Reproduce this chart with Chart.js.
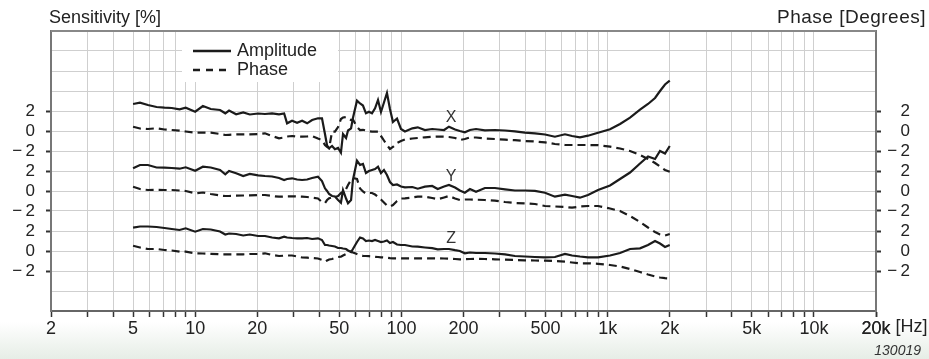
<!DOCTYPE html>
<html>
<head>
<meta charset="utf-8">
<script src="https://cdn.jsdelivr.net/npm/chart.js@4.4.1/dist/chart.umd.min.js"></script>
<style>
  html, body { margin: 0; padding: 0; }
  body { width: 929px; height: 359px; overflow: hidden;
         background: linear-gradient(to bottom, #fff 0, #fff 322px, #e6ede6 359px); }
  canvas { display: block; }
</style>
</head>
<body>
<canvas id="chart" width="929" height="359"></canvas>
<script>
// frequency points [Hz]
const freqs = [5, 5.4, 5.9, 6.5, 7.1, 7.7, 8.4, 9.0, 10, 10.9,
  11.9, 13.2, 14.0, 14.6, 15.8, 17.1, 18.4, 20.2, 21.8, 23.6,
  25.5, 27.0, 27.9, 29.5, 31.2, 33.0, 34.9, 36.9, 39.4, 41.2,
  42.6, 43.6, 44.6, 46.1, 47.6, 49.3, 50.9, 52.1, 53.9, 55.1,
  57.0, 58.2, 60.9, 63.0, 65.1, 67.3, 69.6, 72.0, 74.5, 77.0,
  79.6, 82.3, 85.1, 88.0, 91.0, 95.2, 99.5, 104, 113, 120,
  130, 141, 150, 161, 170, 182, 192, 203, 215, 230,
  254, 284, 318, 355, 397, 444, 497, 555, 621, 672,
  734, 803, 898, 1027, 1148, 1284, 1435, 1569, 1697, 1794,
  1897, 2000];

// sensitivity deviation [%]
const xAmp = [2.7, 2.83, 2.6, 2.4, 2.33, 2.3, 2.17, 2.33, 1.93, 2.5,
  2.2, 2.1, 1.77, 2.05, 1.67, 1.85, 1.65, 1.75, 1.7, 1.77,
  1.67, 1.75, 0.77, 1.03, 0.83, 1.03, 0.77, 1.1, 1.27, 1.27,
  -0.3, -1.45, -1.73, -1.5, -1.83, -1.7, -2.17, -0.3, -0.7, 0.05,
  0.27, 1.3, 3.03, 2.75, 2.55, 1.77, 1.93, 1.77, 2.27, 3.1,
  1.9, 2.85, 3.8, 2.2, 0.9, 1.25, 0.2, -0.05, 0.27, 0.37,
  0.1, 0.2, 0.15, 0.1, 0.43, 0.15, 0.0, -0.13, 0.1, 0.2,
  0.07, 0.1, 0.05, -0.03, -0.17, -0.23, -0.35, -0.57, -0.33, -0.5,
  -0.63, -0.47, -0.17, 0.17, 0.7, 1.33, 2.13, 2.7, 3.3, 4.0,
  4.65, 5.03];
const yAmp = [2.27, 2.6, 2.6, 2.35, 2.33, 2.3, 2.23, 2.37, 2.03, 2.43,
  2.35, 2.1, 1.67, 2.0, 1.77, 1.5, 1.7, 1.57, 1.5, 1.45,
  1.3, 1.1, 1.2, 1.27, 1.15, 1.1, 1.15, 1.3, 1.43, 1.0,
  0.27, 0.0, -0.3, -0.5, -0.55, -0.9, -1.17, 0.1, -0.75, -1.23,
  -0.9, 1.1, 3.03, 2.6, 2.7, 1.8, 2.0, 2.1, 2.2, 2.43,
  1.8, 2.1, 1.6, 0.9, 0.6, 0.65, 0.45, 0.37, 0.4, 0.23,
  0.43, 0.5, 0.2, 0.45, 0.6, 0.35, 0.05, -0.17, 0.2, -0.07,
  0.3, 0.3, 0.17, 0.05, 0.05, 0.02, -0.17, -0.57, -0.37, -0.5,
  -0.67, -0.4, 0.1, 0.55, 1.2, 1.85, 2.75, 3.45, 3.2, 4.0,
  3.75, 4.5];
const zAmp = [2.33, 2.45, 2.45, 2.4, 2.3, 2.2, 2.1, 2.27, 1.93, 2.2,
  2.15, 1.95, 1.65, 1.75, 1.7, 1.55, 1.65, 1.5, 1.5, 1.35,
  1.27, 1.43, 1.35, 1.3, 1.27, 1.27, 1.3, 1.2, 1.27, 1.1,
  0.6, 0.6, 0.55, 0.5, 0.45, 0.3, 0.3, 0.25, 0.2, 0.05,
  -0.1, 0.2, 0.9, 1.35, 1.25, 1.0, 1.05, 1.0, 1.1, 1.0,
  0.9, 0.95, 1.05, 0.8, 0.9, 0.65, 0.6, 0.6, 0.45, 0.43,
  0.35, 0.28, 0.17, 0.2, 0.2, 0.08, 0.0, -0.23, -0.15, -0.2,
  -0.2, -0.25, -0.33, -0.5, -0.55, -0.6, -0.63, -0.6, -0.3, -0.45,
  -0.55, -0.63, -0.63, -0.45, -0.2, 0.2, 0.27, 0.6, 1.0, 0.75,
  0.4, 0.6];

// phase [degrees]
const xPhase = [0.43, 0.25, 0.2, 0.27, 0.15, 0.1, 0.03, -0.05, -0.17, -0.15,
  -0.17, -0.3, -0.4, -0.38, -0.33, -0.33, -0.33, -0.3, -0.23, -0.5,
  -0.73, -0.65, -0.55, -0.5, -0.55, -0.57, -0.55, -0.5, -0.75, -0.9,
  -1.4, -1.6, -1.73, -0.07, -0.07, 0.4, 1.2, 1.35, 1.4, 1.25,
  1.1, 1.15, 0.4, 0.1, 0.12, 0.05, -0.02, -0.07, -0.07, -0.07,
  -0.5, -0.95, -1.4, -1.8, -1.6, -1.2, -1.0, -0.85, -0.75, -0.7,
  -0.63, -0.57, -0.55, -0.57, -0.6, -0.7, -0.9, -0.8, -0.65, -0.65,
  -0.75, -0.8, -0.87, -0.92, -1.0, -1.05, -1.13, -1.3, -1.4, -1.4,
  -1.4, -1.4, -1.42, -1.57, -1.75, -2.0, -2.4, -2.8, -3.2, -3.55,
  -3.9, -4.07];
const yPhase = [0.43, 0.2, 0.1, 0.12, 0.1, 0.1, 0.05, 0.0, -0.23, -0.15,
  -0.3, -0.45, -0.5, -0.5, -0.47, -0.45, -0.43, -0.4, -0.4, -0.5,
  -0.57, -0.55, -0.53, -0.53, -0.55, -0.57, -0.6, -0.67, -0.75, -1.1,
  -1.2, -0.9, -0.73, -0.65, -0.6, -0.5, -0.2, -0.05, 0.2, 0.6,
  1.1, 1.3, 1.2, 0.25, -0.05, -0.25, -0.2, -0.2, -0.35, -0.57,
  -0.85, -1.15, -1.45, -1.55, -1.4, -1.0, -0.75, -0.73, -0.65, -0.57,
  -0.57, -0.7, -0.83, -0.65, -0.5, -0.75, -0.9, -0.85, -0.85, -0.87,
  -0.9, -0.97, -1.1, -1.2, -1.23, -1.3, -1.5, -1.55, -1.6, -1.67,
  -1.55, -1.5, -1.5, -1.75, -2.0, -2.5, -3.1, -3.65, -4.1, -4.35,
  -4.45, -4.3];
const zPhase = [0.53, 0.35, 0.2, 0.2, 0.1, 0.05, -0.07, -0.07, -0.23, -0.25,
  -0.28, -0.33, -0.33, -0.33, -0.33, -0.33, -0.3, -0.3, -0.23, -0.4,
  -0.5, -0.47, -0.45, -0.45, -0.55, -0.65, -0.67, -0.7, -0.75, -0.9,
  -1.07, -0.95, -0.85, -0.8, -0.7, -0.6, -0.57, -0.45, -0.3, -0.15,
  -0.07, -0.15, -0.3, -0.4, -0.48, -0.5, -0.52, -0.55, -0.58, -0.6,
  -0.63, -0.65, -0.68, -0.72, -0.73, -0.73, -0.73, -0.73, -0.73, -0.73,
  -0.73, -0.73, -0.73, -0.75, -0.77, -0.8, -0.83, -0.82, -0.8, -0.78,
  -0.8, -0.83, -0.87, -0.9, -0.93, -0.95, -0.97, -1.0, -1.07, -1.15,
  -1.23, -1.23, -1.28, -1.4, -1.55, -1.8, -2.1, -2.35, -2.55, -2.65,
  -2.72, -2.75];

// the three traces are stacked on one axis, each around its own zero
const groupNames = ['X', 'Y', 'Z'];
const groupOffsets = [18, 12, 6];
const ampSeries = [xAmp, yAmp, zAmp];
const phaseSeries = [xPhase, yPhase, zPhase];
const legendLabels = ['Amplitude', 'Phase'];

const xLabelValues = [2, 5, 10, 20, 50, 100, 200, 500, 1000, 2000, 5000, 10000, 20000];
const xLabelTexts = ['2', '5', '10', '20', '50', '100', '200', '500', '1k', '2k', '5k', '10k', '20k'];

const gridFreqs = [];
for (let d = 1; d <= 10000; d *= 10) {
  for (let m = 1; m <= 9; m++) {
    const v = m * d;
    if (v >= 2 && v <= 20000) gridFreqs.push(v);
  }
}
gridFreqs.push(20000);

function yLabel(v) {
  for (const off of groupOffsets) {
    const d = v - off;
    if (d >= -2 && d <= 2) return d < 0 ? '\u2212\u2009' + (-d) : String(d);
  }
  return '';
}

function xLabel(v) {
  const i = xLabelValues.indexOf(v);
  return i < 0 ? '' : xLabelTexts[i];
}

const datasets = [];
groupOffsets.forEach((off, g) => {
  datasets.push({
    label: groupNames[g] + ' ' + legendLabels[0],
    data: freqs.map((f, i) => ({x: f, y: ampSeries[g][i] + off})),
    borderColor: '#1b1b1b',
    borderWidth: 2.2,
    pointRadius: 0,
    tension: 0
  });
  datasets.push({
    label: groupNames[g] + ' ' + legendLabels[1],
    data: freqs.map((f, i) => ({x: f, y: phaseSeries[g][i] + off})),
    borderColor: '#1b1b1b',
    borderWidth: 2.2,
    borderDash: [8, 5],
    pointRadius: 0,
    tension: 0
  });
});

const FONT = "'Liberation Sans', Arial, sans-serif";
const XFONT_SIZE = 18;

const decor = {
  id: 'decor',
  afterDraw(chart) {
    const {ctx, chartArea: a, scales} = chart;
    ctx.save();

    // legend box
    ctx.fillStyle = '#fff';
    ctx.fillRect(182, a.top + 1, 156, 50);
    ctx.strokeStyle = '#1b1b1b';
    ctx.lineWidth = 2.5;
    ctx.beginPath(); ctx.moveTo(193, 51); ctx.lineTo(231, 51); ctx.stroke();
    ctx.setLineDash([7, 6]);
    ctx.beginPath(); ctx.moveTo(193, 70); ctx.lineTo(231, 70); ctx.stroke();
    ctx.setLineDash([]);
    ctx.fillStyle = '#222';
    ctx.font = '18px ' + FONT;
    ctx.textBaseline = 'middle';
    ctx.textAlign = 'left';
    ctx.fillText(legendLabels[0], 237, 51);
    ctx.fillText(legendLabels[1], 237, 70);

    // top frame line
    ctx.strokeStyle = '#888';
    ctx.lineWidth = 2;
    ctx.beginPath(); ctx.moveTo(a.left, a.top); ctx.lineTo(a.right, a.top); ctx.stroke();

    // axis titles
    ctx.font = '18px ' + FONT;
    ctx.fillStyle = '#222';
    ctx.textAlign = 'left';
    ctx.fillText('Sensitivity [%]', 49, 18);
    ctx.font = '19px ' + FONT;
    ctx.letterSpacing = '0.5px';
    ctx.textAlign = 'right';
    ctx.fillText('Phase [Degrees]', 926, 18);
    ctx.letterSpacing = '0px';

    // trace names
    ctx.font = '16px ' + FONT;
    ctx.fillStyle = '#333';
    ctx.textAlign = 'center';
    const lx = scales.x.getPixelForValue(174);
    const nameLift = [1.35, 1.43, 1.2];
    groupNames.forEach((n, g) => {
      ctx.fillText(n, lx, scales.y.getPixelForValue(groupOffsets[g] + nameLift[g]));
    });

    // unit after last tick label
    ctx.font = XFONT_SIZE + 'px ' + FONT;
    ctx.textAlign = 'left';
    ctx.textBaseline = 'top';
    ctx.fillStyle = '#222';
    const x20k = scales.x.getPixelForValue(20000);
    ctx.fillText('[Hz]', x20k + ctx.measureText('20k').width / 2 + 5, a.bottom + 7);

    // figure number
    ctx.font = 'italic 14px ' + FONT;
    ctx.fillStyle = '#333';
    ctx.textAlign = 'right';
    ctx.textBaseline = 'alphabetic';
    ctx.fillText('130019', 921, 355);
    ctx.restore();
  }
};

new Chart(document.getElementById('chart'), {
  type: 'line',
  data: { datasets },
  plugins: [decor],
  options: {
    responsive: false,
    devicePixelRatio: 1,
    animation: false,
    layout: { padding: { top: 31, right: 19, left: 0, bottom: 0 } },
    plugins: { legend: { display: false }, tooltip: { enabled: false } },
    scales: {
      x: {
        type: 'logarithmic',
        min: 2,
        max: 20000,
        afterBuildTicks: s => { s.ticks = gridFreqs.map(v => ({value: v})); },
        afterFit: s => { s.height = 48; },
        grid: { color: '#cfcfcf', lineWidth: 1, tickColor: '#333', tickLength: 6, tickWidth: 1.5 },
        border: { color: '#666', width: 2 },
        ticks: {
          autoSkip: false, maxRotation: 0, padding: 1,
          color: '#222',
          font: { family: FONT, size: XFONT_SIZE },
          callback: v => xLabel(v)
        }
      },
      y: {
        min: 0, max: 28,
        afterFit: s => { s.width = 51; },
        grid: {
          color: '#cfcfcf', lineWidth: 1, tickLength: 5, tickWidth: 2,
          tickColor: c => yLabel(c.tick.value) ? '#333' : 'rgba(0,0,0,0)'
        },
        border: { color: '#777', width: 2 },
        ticks: {
          stepSize: 2, autoSkip: false, padding: 11, color: '#222',
          font: { family: FONT, size: 17 },
          callback: v => yLabel(v)
        }
      },
      y2: {
        position: 'right',
        min: 0, max: 28,
        afterFit: s => { s.width = 34; },
        grid: {
          drawOnChartArea: false, tickLength: 5, tickWidth: 2,
          tickColor: c => yLabel(c.tick.value) ? '#333' : 'rgba(0,0,0,0)'
        },
        border: { color: '#777', width: 2 },
        ticks: {
          stepSize: 2, autoSkip: false, crossAlign: 'far', padding: 4, color: '#222',
          font: { family: FONT, size: 17 },
          callback: v => yLabel(v)
        }
      }
    }
  }
});
</script>
</body>
</html>
